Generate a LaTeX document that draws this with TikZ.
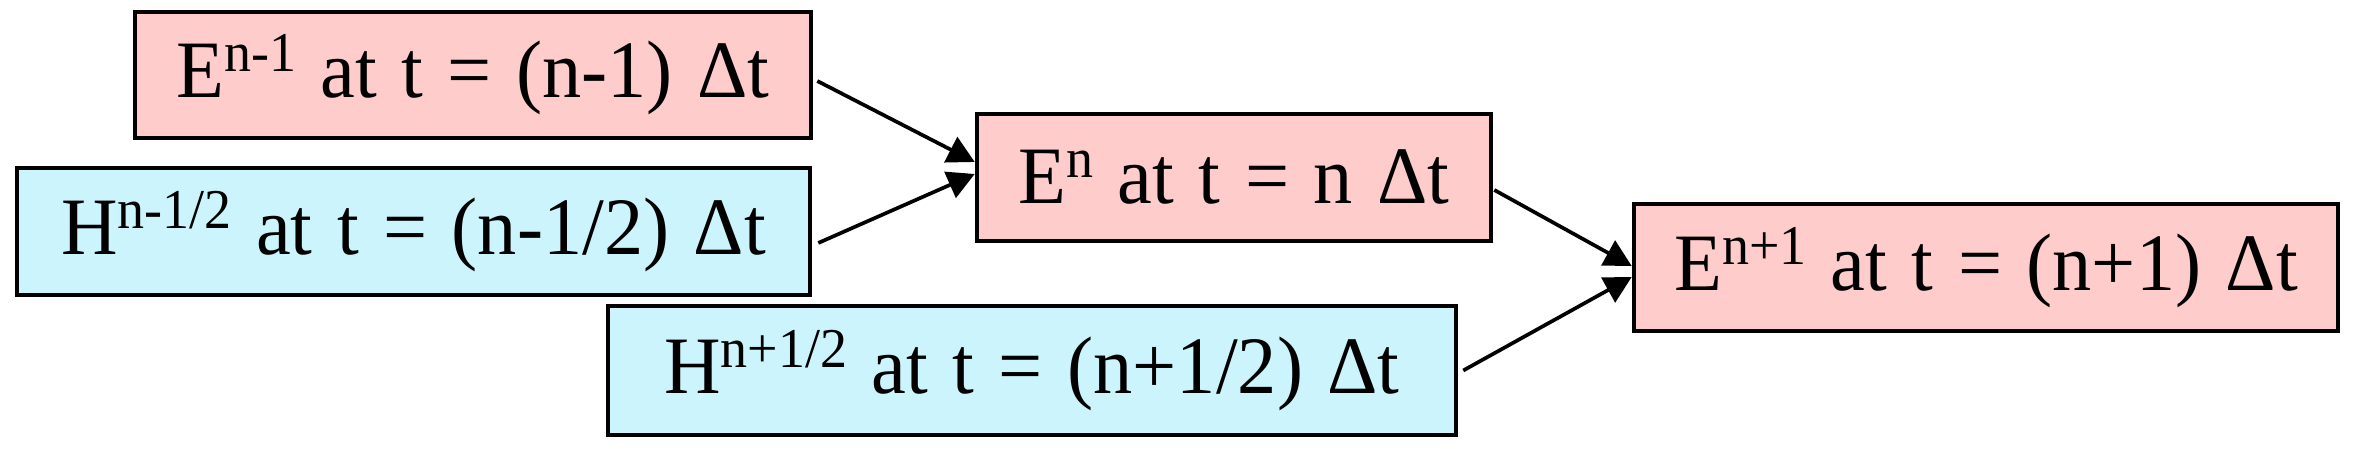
\documentclass[tikz,border=0pt]{standalone}
\usepackage{fontspec}
\setmainfont[WordSpace=1.25, FakeStretch=0.96]{Liberation Serif}
\usepackage{tikz}
\usetikzlibrary{arrows.meta}

\definecolor{epink}{RGB}{255,204,204}
\definecolor{hcyan}{RGB}{204,244,252}

\newcommand{\upidx}[1]{\raisebox{0.32em}{\fontsize{16}{16}\selectfont #1}}

\tikzset{
	field/.style={draw, line width=1.3pt, inner sep=0pt, minimum height=1.27cm,
		font=\fontsize{23.2}{23.2}\selectfont},
	efield/.style={field, fill=epink},
	hfield/.style={field, fill=hcyan},
	arr/.style={-{Triangle[length=2.7mm,width=2.8mm]}, line width=1.05pt}
}

\begin{document}
\begin{tikzpicture}
		\useasboundingbox (0, 0) rectangle (23.56, 4.69);
		
		\node[efield, minimum width=6.76cm, minimum height=1.26cm] (0) at (4.73, 3.94) {E\upidx{n-1} at t = (n-1) Δt};
		\node[hfield, minimum width=7.93cm] (1) at (4.135, 2.375) {H\upidx{n-1/2} at t = (n-1/2) Δt};
		\node[efield, minimum width=5.14cm] (2) at (12.34, 2.915) {E\upidx{n} at t = n Δt};
		\node[hfield, minimum width=8.48cm, minimum height=1.29cm] (3) at (10.32, 0.985) {H\upidx{n+1/2} at t = (n+1/2) Δt};
		\node[efield, minimum width=7.04cm] (4) at (19.86, 2.015) {E\upidx{n+1} at t = (n+1) Δt};
		
		\draw[arr] ([shift={(0.04,-0.06)}]0.east) -- ([yshift=1.55mm]2.west);
		\draw[arr] ([shift={(0.06,-0.115)}]1.east) -- ([yshift=0.35mm]2.west);
		
		\draw[arr] ([shift={(0.01,-0.125)}]2.east) -- ([yshift=0.15mm]4.west);
		\draw[arr] ([xshift=0.5mm]3.east) -- ([yshift=-0.95mm]4.west);
		\end{tikzpicture}
\end{document}
